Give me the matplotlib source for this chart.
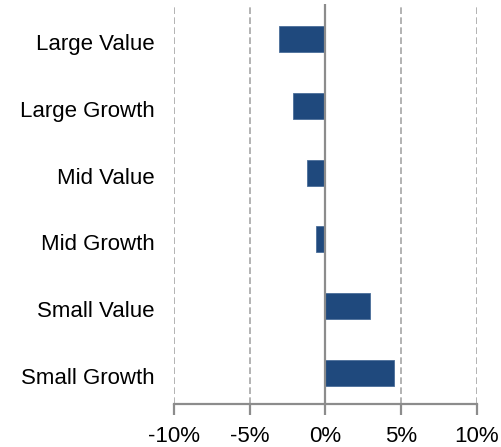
import matplotlib
matplotlib.use("Agg")
import matplotlib.pyplot as plt
from matplotlib.transforms import ScaledTranslation

categories = ["Large Value", "Large Growth", "Mid Value", "Mid Growth", "Small Value", "Small Growth"]
values = [-3.03, -2.17, -1.18, -0.59, 2.94, 4.52]
xticks = [-10, -5, 0, 5, 10]
xticklabels = ["-10%", "-5%", "0%", "5%", "10%"]

plt.rcParams['font.family'] = ['Liberation Sans', 'DejaVu Sans']

fig = plt.figure(figsize=(5.02, 4.47), dpi=100)
ax = fig.add_axes([174/502, 1-404/447, (476.7-174)/502, 400/447])

ypos = list(range(len(categories)))
ax.barh(ypos, values, height=0.39, color='#1F497D', edgecolor='#4A6E9A', linewidth=0.6, zorder=3)
ax.set_ylim(len(categories)-0.53, -0.53)
ax.set_xlim(-10, 10)

for xt in xticks:
    if xt == 0:
        ax.axvline(xt, color='#8C8C8C', linewidth=1.6, zorder=4)
    else:
        ax.axvline(xt, color='#A6A6A6', linewidth=1.2, linestyle=(0, (4, 2)), zorder=1)

ax.set_xticks(xticks)
ax.set_xticklabels(xticklabels, fontsize=16)
ax.set_yticks(ypos)
ax.set_yticklabels(categories, fontsize=16)
ax.tick_params(axis='y', length=0, pad=14)
ax.tick_params(axis='x', length=8, width=1.6, color='#8C8C8C', pad=8)
for lab in ax.get_yticklabels():
    lab.set_transform(lab.get_transform() + ScaledTranslation(0, -0.03, fig.dpi_scale_trans))
for s in ['left', 'right', 'top']:
    ax.spines[s].set_visible(False)
ax.spines['bottom'].set_color('#8C8C8C')
ax.spines['bottom'].set_linewidth(1.6)

fig.savefig("out.png", dpi=100)
